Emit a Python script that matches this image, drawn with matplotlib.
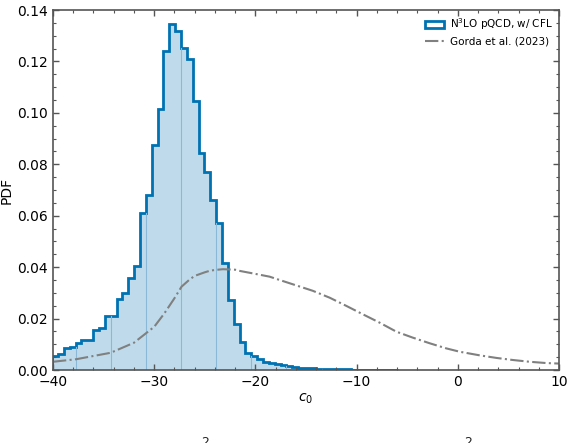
import numpy as np
import matplotlib
matplotlib.use('Agg')
import matplotlib.pyplot as plt
from matplotlib.ticker import MultipleLocator
from matplotlib.patches import Patch

# histogram of c0 (N3LO pQCD, w/ CFL)
bin_start = -40.085
bin_width = 0.5788
pdf_vals = [
    0.0054, 0.0062, 0.0086, 0.0088, 0.0106, 0.0117, 0.0117, 0.0156, 0.0162, 0.0210,
    0.0210, 0.0277, 0.0298, 0.0357, 0.0404, 0.0609, 0.0680, 0.0875, 0.1015, 0.1241,
    0.1346, 0.1319, 0.1251, 0.1211, 0.1048, 0.0843, 0.0771, 0.0661, 0.0573, 0.0417,
    0.0272, 0.0178, 0.0110, 0.0065, 0.0054, 0.0042,
    0.0032, 0.0027, 0.0022, 0.0018, 0.0015, 0.0012, 0.0009, 0.0007, 0.0006, 0.0005,
    0.0004, 0.0003, 0.0002, 0.0002, 0.0002, 0.0001, 0.0001, 0.0001, 0.0001, 0.00005,
    0.00005, 0.00005, 0.00005,
]

# Gorda et al. (2023) curve
gorda_x = [-40.0, -37.7, -34.3, -32.0, -30.0, -29.0, -28.0, -27.3, -26.5, -26.0, -25.0,
           -24.5, -24.0, -23.2, -22.0, -21.5, -19.9, -18.6, -17.6, -14.33, -12.65, -11.0,
           -9.4, -7.72, -6.07, -4.46, -2.78, -1.13, 0.19, 2.16, 3.81, 5.42, 7.1, 8.75, 10.0]
gorda_y = [0.0032, 0.0042, 0.0067, 0.0106, 0.0168, 0.0220, 0.0279, 0.0324, 0.0352, 0.0366, 0.0380,
           0.0386, 0.0389, 0.0392, 0.0390, 0.0385, 0.0373, 0.0363, 0.0350, 0.0308, 0.0281, 0.0249,
           0.0217, 0.0184, 0.0149, 0.0126, 0.0104, 0.0084, 0.0071, 0.0057, 0.0047, 0.0039, 0.0032, 0.0027, 0.0025]

blue = '#0072B2'
axis_gray = '#555555'

fig = plt.figure(figsize=(5.74, 4.43), dpi=100)
ax = fig.add_axes([53 / 574, 1 - 370 / 443, 506 / 574, 360 / 443])

pdf_vals = np.array(pdf_vals)
edges = bin_start + bin_width * np.arange(len(pdf_vals) + 1)

ax.stairs(pdf_vals, edges, fill=True, color=blue, alpha=0.25, lw=0)
# faint internal seams every few bins, as in the original rendering
for k in range(4, len(pdf_vals), 6):
    h = min(pdf_vals[k - 1], pdf_vals[k])
    ax.plot([edges[k], edges[k]], [0, h], color='#8ab9d8', lw=0.8)
ax.stairs(pdf_vals, edges, color=blue, lw=2)

ax.plot(gorda_x, gorda_y, color='gray', ls='-.', lw=1.5)

ax.set_xlim(-40, 10)
ax.set_ylim(0, 0.14)
ax.xaxis.set_major_locator(MultipleLocator(10))
ax.xaxis.set_minor_locator(MultipleLocator(2))
ax.yaxis.set_major_locator(MultipleLocator(0.02))
ax.yaxis.set_minor_locator(MultipleLocator(0.005))
ax.yaxis.set_major_formatter(matplotlib.ticker.FormatStrFormatter('%.2f'))
ax.tick_params(which='both', direction='in', top=True, right=True, color=axis_gray, labelsize=10)
ax.tick_params(which='major', length=4, width=1)
ax.tick_params(which='minor', length=2.5, width=0.8)
for sp in ax.spines.values():
    sp.set_color(axis_gray)
    sp.set_linewidth(1.2)

ax.set_xlabel('$c_0$', fontsize=10, labelpad=2)
ax.set_ylabel('PDF', fontsize=10)
ax.yaxis.set_label_coords(-0.078, 0.5)

handles = [Patch(facecolor='white', edgecolor=blue, lw=2),
           plt.Line2D([], [], color='gray', ls='-.', lw=1.5)]
ax.legend(handles, ['N$^3$LO pQCD, w/ CFL', 'Gorda et al. (2023)'],
          loc='upper right', frameon=False, fontsize=7.5, handlelength=1.8,
          labelspacing=0.45, borderaxespad=0.2, handletextpad=0.6)

# tops of text from a panel below, cut off by the figure edge
fig.text(205 / 574, 1 - 436 / 443, '2', fontsize=9, ha='center', va='top', color='#222222')
fig.text(468 / 574, 1 - 436 / 443, '2', fontsize=9, ha='center', va='top', color='#222222')

fig.savefig('out.png', dpi=100)
